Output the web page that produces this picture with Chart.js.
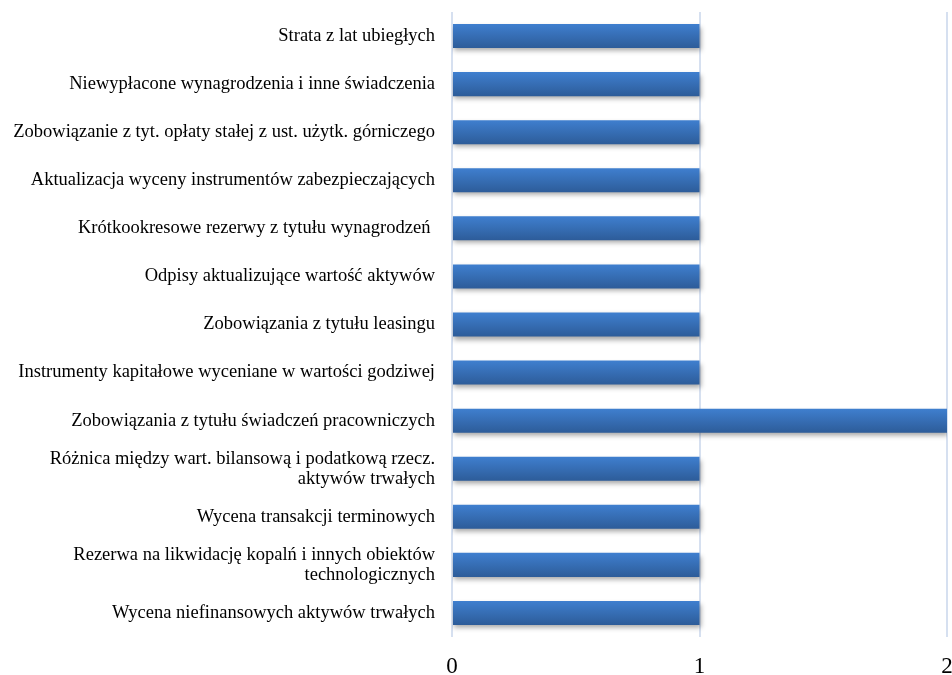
<!DOCTYPE html>
<html>
<head>
<meta charset="utf-8">
<script src="https://cdn.jsdelivr.net/npm/chart.js@4"></script>
<style>
  html, body { margin: 0; padding: 0; background: #fff; }
  #wrap { width: 952px; height: 675px; }
</style>
</head>
<body>
<div id="wrap"><canvas id="myChart"></canvas></div>
<script>
const categories = [
    'Strata z lat ubiegłych',
    'Niewypłacone wynagrodzenia i inne świadczenia',
    'Zobowiązanie z tyt. opłaty stałej z ust. użytk. górniczego',
    'Aktualizacja wyceny instrumentów zabezpieczających',
    'Krótkookresowe rezerwy z tytułu wynagrodzeń ',
    'Odpisy aktualizujące wartość aktywów',
    'Zobowiązania z tytułu leasingu',
    'Instrumenty kapitałowe wyceniane w wartości godziwej',
    'Zobowiązania z tytułu świadczeń pracowniczych',
    ['Różnica między wart. bilansową i podatkową rzecz.', 'aktywów trwałych'],
    'Wycena transakcji terminowych',
    ['Rezerwa na likwidację kopalń i innych obiektów', 'technologicznych'],
    'Wycena niefinansowych aktywów trwałych'
];
const values = [1, 1, 1, 1, 1, 1, 1, 1, 2, 1, 1, 1, 1];
const xTicks = [0, 1, 2];

// vertical gradient for each bar
const barFill = context => {
    const chart = context.chart;
    const yScale = chart.scales.y;
    if (!chart.chartArea || !yScale) return '#3a72bd';
    const mid = yScale.getPixelForValue(context.dataIndex);
    const half = 12;
    const g = chart.ctx.createLinearGradient(0, mid - half, 0, mid + half);
    g.addColorStop(0, '#3f7fcf');
    g.addColorStop(1, '#2d5c99');
    return g;
};

const shadowPlugin = {
    id: 'barShadow',
    beforeDatasetsDraw(chart) {
        const c = chart.ctx;
        c.save();
        c.shadowColor = 'rgba(0,0,0,0.35)';
        c.shadowBlur = 5;
        c.shadowOffsetX = 1;
        c.shadowOffsetY = 3;
    },
    afterDatasetsDraw(chart) {
        chart.ctx.restore();
    }
};

const ctx = document.getElementById('myChart').getContext('2d');
new Chart(ctx, {
    type: 'bar',
    data: {
        labels: categories,
        datasets: [{
            data: values,
            backgroundColor: barFill,
            borderWidth: 0,
            barPercentage: 0.5,
            categoryPercentage: 1
        }]
    },
    plugins: [shadowPlugin],
    options: {
        indexAxis: 'y',
        responsive: true,
        maintainAspectRatio: false,
        animation: false,
        layout: { padding: { top: 12, right: 5, bottom: 0, left: 0 } },
        plugins: {
            legend: { display: false },
            tooltip: { enabled: false }
        },
        scales: {
            x: {
                min: 0,
                max: 2,
                afterBuildTicks: s => { s.ticks = xTicks.map(v => ({ value: v })); },
                afterFit: s => { s.height = 38; s.paddingLeft = 0; s.paddingRight = 0; },
                grid: { color: '#d6e0f0', lineWidth: 2, drawTicks: false },
                border: { display: false },
                ticks: {
                    color: '#000',
                    padding: 16,
                    font: { family: 'Liberation Serif', size: 23 }
                }
            },
            y: {
                afterFit: s => { s.width = 452; s.paddingTop = 0; s.paddingBottom = 0; },
                grid: { display: false, drawTicks: false },
                border: { display: false },
                ticks: {
                    color: '#000',
                    padding: 17,
                    font: { family: 'Liberation Serif', size: 18.5, lineHeight: 1.08 }
                }
            }
        }
    }
});
</script>
</body>
</html>
